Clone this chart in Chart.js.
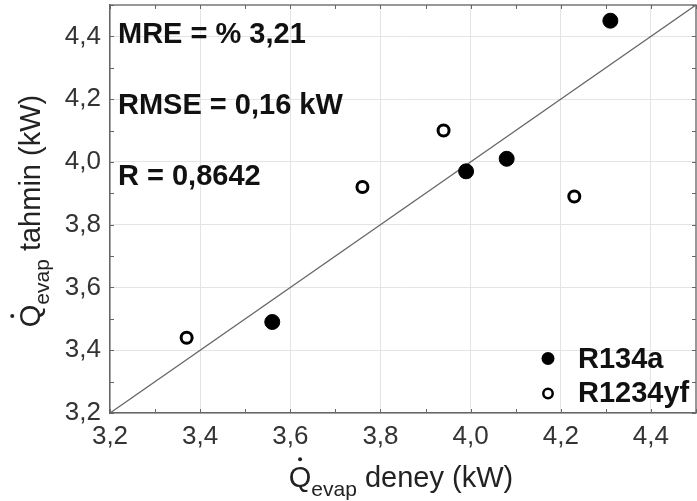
<!DOCTYPE html>
<html>
<head>
<meta charset="utf-8">
<script src="https://cdn.jsdelivr.net/npm/chart.js@4/dist/chart.umd.min.js"></script>
<style>
  html, body { margin: 0; padding: 0; background: #fff; overflow: hidden; }
  #wrap { width: 697px; height: 501px; }
</style>
</head>
<body>
<div id="wrap"><canvas id="c" width="697" height="501"></canvas></div>
<script>
// Axis range and tick labels (kW)
const axisMin = 3.2;
const axisMax = 4.5;
const xTicks = [3.2, 3.4, 3.6, 3.8, 4.0, 4.2, 4.4];
const yTicks = [3.2, 3.4, 3.6, 3.8, 4.0, 4.2, 4.4];

// Measured (deney) vs predicted (tahmin) evaporator capacity, kW
const r134aX = [3.56, 3.99, 4.08, 4.31];
const r134aY = [3.49, 3.97, 4.01, 4.45];
const r1234yfX = [3.37, 3.76, 3.94, 4.23];
const r1234yfY = [3.44, 3.92, 4.10, 3.89];

// Perfect-agreement line y = x
const idealLine = [3.2, 4.5];

const seriesNames = ['R134a', 'R1234yf'];
const statLines = ['MRE = % 3,21', 'RMSE = 0,16 kW', 'R = 0,8642'];

const FONT = '"Liberation Sans", Arial, Helvetica, sans-serif';
const fmt = v => Number(v).toFixed(1).replace('.', ',');
const toPoints = (xs, ys) => xs.map((x, i) => ({ x: x, y: ys[i] }));

// Draws "Q̇" + subscript "evap" + rest of the title, centred on x=0 at the baseline
function drawQTitle(ctx, rest, mainSize, subSize) {
  ctx.font = mainSize + 'px ' + FONT;
  const qW = ctx.measureText('Q').width;
  ctx.font = subSize + 'px ' + FONT;
  const subW = ctx.measureText('evap').width;
  ctx.font = mainSize + 'px ' + FONT;
  const restW = ctx.measureText(rest).width;
  const total = qW + subW + restW;
  let x = -total / 2;
  ctx.textAlign = 'left';
  ctx.textBaseline = 'alphabetic';
  ctx.fillText('Q', x, 0);
  // overdot
  ctx.beginPath();
  ctx.arc(x + qW / 2, -mainSize * 0.716 - 7, 2, 0, Math.PI * 2);
  ctx.fill();
  x += qW;
  ctx.font = subSize + 'px ' + FONT;
  ctx.fillText('evap', x, 9);
  x += subW;
  ctx.font = mainSize + 'px ' + FONT;
  ctx.fillText(rest, x, 0);
}

const decor = {
  id: 'decor',
  afterDatasetsDraw(chart) {
    const ctx = chart.ctx;
    const ca = chart.chartArea;
    const xs = chart.scales.x, ys = chart.scales.y;
    ctx.save();
    // top and right frame
    ctx.strokeStyle = '#777';
    ctx.lineWidth = 1.5;
    ctx.beginPath();
    ctx.moveTo(ca.left, ca.top);
    ctx.lineTo(ca.right, ca.top);
    ctx.lineTo(ca.right, ca.bottom);
    ctx.stroke();
    // inward minor ticks every 0.1 kW on all sides
    ctx.strokeStyle = '#666';
    ctx.lineWidth = 1;
    ctx.beginPath();
    for (let i = 32; i <= 45; i++) {
      const v = i / 10;
      const px = Math.round(xs.getPixelForValue(v)) + 0.5;
      const py = Math.round(ys.getPixelForValue(v)) + 0.5;
      ctx.moveTo(px, ca.bottom); ctx.lineTo(px, ca.bottom - 4);
      ctx.moveTo(px, ca.top); ctx.lineTo(px, ca.top + 4);
      ctx.moveTo(ca.left, py); ctx.lineTo(ca.left + 4, py);
      ctx.moveTo(ca.right, py); ctx.lineTo(ca.right - 4, py);
    }
    ctx.stroke();
    ctx.restore();
  },
  afterDraw(chart) {
    const ctx = chart.ctx;
    const ca = chart.chartArea;
    ctx.save();
    ctx.fillStyle = '#111';

    // statistics block
    ctx.font = 'bold 29px ' + FONT;
    ctx.textAlign = 'left';
    ctx.textBaseline = 'alphabetic';
    statLines.forEach((t, i) => ctx.fillText(t, ca.left + 8, ca.top + 38 + i * 71));

    // legend
    seriesNames.forEach((name, i) => {
      const ds = chart.data.datasets[i];
      const cx = ca.right - 148, cy = ca.bottom - 54.5 + i * 35;
      ctx.beginPath();
      if (ds.pointBackgroundColor === '#000') {
        ctx.fillStyle = '#000';
        ctx.arc(cx, cy, 6.5, 0, Math.PI * 2);
        ctx.fill();
      } else {
        ctx.fillStyle = '#fff';
        ctx.strokeStyle = '#000';
        ctx.lineWidth = 2.5;
        ctx.arc(cx, cy, 4.7, 0, Math.PI * 2);
        ctx.fill();
        ctx.stroke();
      }
      ctx.fillStyle = '#111';
      ctx.font = 'bold 29px ' + FONT;
      ctx.textAlign = 'left';
      ctx.textBaseline = 'alphabetic';
      ctx.fillText(name, ca.right - 118, cy + 9 - i * 0.5);
    });

    // axis titles
    ctx.fillStyle = '#222';
    ctx.save();
    ctx.translate((ca.left + ca.right) / 2 - 2, 487);
    drawQTitle(ctx, ' deney (kW)', 29, 21);
    ctx.restore();

    ctx.save();
    ctx.translate(40, (ca.top + ca.bottom) / 2 + 2);
    ctx.rotate(-Math.PI / 2);
    drawQTitle(ctx, ' tahmin (kW)', 29, 21);
    ctx.restore();

    ctx.restore();
  }
};

const tickFont = { family: FONT, size: 26 };

new Chart(document.getElementById('c'), {
  type: 'scatter',
  data: {
    datasets: [
      {
        label: seriesNames[0],
        data: toPoints(r134aX, r134aY),
        pointBackgroundColor: '#000',
        pointBorderColor: '#000',
        pointBorderWidth: 1,
        pointRadius: 7.5,
        order: 1
      },
      {
        label: seriesNames[1],
        data: toPoints(r1234yfX, r1234yfY),
        pointBackgroundColor: '#fff',
        pointBorderColor: '#000',
        pointBorderWidth: 3,
        pointRadius: 5.5,
        order: 1
      },
      {
        type: 'line',
        label: 'y = x',
        data: toPoints(idealLine, idealLine),
        borderColor: '#666',
        borderWidth: 1.3,
        pointRadius: 0,
        fill: false,
        order: 2
      }
    ]
  },
  options: {
    responsive: false,
    animation: false,
    devicePixelRatio: 1,
    layout: { autoPadding: false, padding: { top: 5, right: 1, left: 0, bottom: 0 } },
    plugins: {
      legend: { display: false },
      tooltip: { enabled: false },
      title: { display: false }
    },
    scales: {
      x: {
        type: 'linear',
        min: axisMin,
        max: axisMax,
        afterBuildTicks: s => { s.ticks = xTicks.map(v => ({ value: v })); },
        afterFit: s => {
          s.height = 88;
          s.paddingLeft = 0; s.paddingRight = 0; s.paddingTop = 0; s.paddingBottom = 0;
        },
        ticks: {
          callback: v => fmt(v),
          font: tickFont,
          color: '#333',
          padding: 8,
          maxRotation: 0,
          autoSkip: false
        },
        grid: { color: '#e4e4e4', lineWidth: 1, drawTicks: false },
        border: { color: '#666', width: 1.5 }
      },
      y: {
        type: 'linear',
        min: axisMin,
        max: axisMax,
        afterBuildTicks: s => { s.ticks = yTicks.map(v => ({ value: v })); },
        afterFit: s => {
          s.width = 110;
          s.paddingLeft = 0; s.paddingRight = 0; s.paddingTop = 0; s.paddingBottom = 0;
        },
        ticks: {
          callback: v => fmt(v),
          font: tickFont,
          color: '#333',
          padding: 9,
          autoSkip: false
        },
        grid: { color: '#e4e4e4', lineWidth: 1, drawTicks: false },
        border: { color: '#666', width: 1.5 }
      }
    }
  },
  plugins: [decor]
});
</script>
</body>
</html>
